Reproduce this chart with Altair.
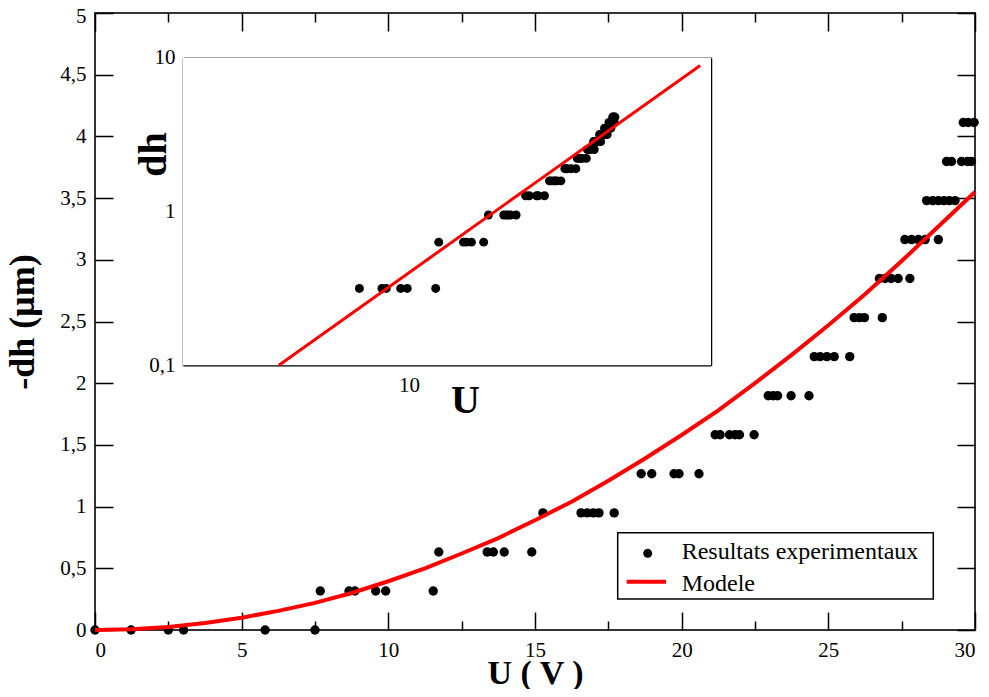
import altair as alt
import pandas as pd

# ---------------- data ----------------
exp_U = [0, 1.23, 2.5, 3.02, 5.8, 7.5,
         7.68, 8.66, 8.86, 9.57, 9.91, 11.53,
         11.72, 13.37, 13.58, 13.95, 14.89,
         15.27, 16.57, 16.78, 16.99, 17.18, 17.7,
         18.62, 18.98, 19.74, 19.91, 20.59,
         21.14, 21.31, 21.63, 21.82, 21.97, 22.47,
         22.95, 23.12, 23.27, 23.73, 24.34,
         24.52, 24.72, 24.95, 25.2, 25.73,
         25.88, 26.06, 26.23, 26.84,
         26.74, 26.93, 27.14, 27.38, 27.78,
         27.61, 27.84, 28.07, 28.3, 28.75,
         28.35, 28.56, 28.75, 28.94, 29.12, 29.32,
         29.03, 29.2, 29.54, 29.74, 29.88,
         29.6, 29.77, 29.97]
exp_dh = [0, 0, 0, 0, 0, 0,
          0.316, 0.316, 0.316, 0.316, 0.316, 0.316,
          0.632, 0.632, 0.632, 0.632, 0.632,
          0.949, 0.949, 0.949, 0.949, 0.949, 0.949,
          1.266, 1.266, 1.266, 1.266, 1.266,
          1.582, 1.582, 1.582, 1.582, 1.582, 1.582,
          1.898, 1.898, 1.898, 1.898, 1.898,
          2.215, 2.215, 2.215, 2.215, 2.215,
          2.531, 2.531, 2.531, 2.531,
          2.848, 2.848, 2.848, 2.848, 2.848,
          3.164, 3.164, 3.164, 3.164, 3.164,
          3.48, 3.48, 3.48, 3.48, 3.48, 3.48,
          3.797, 3.797, 3.797, 3.797, 3.797,
          4.113, 4.113, 4.113]

model_U = [0, 1.25, 2.5, 3.75, 5, 6.25, 7.5, 8.75, 10, 11.25, 12.5, 13.75, 15,
           16.25, 17.5, 18.75, 20, 21.25, 22.5, 23.75, 25, 26.25, 27.5, 28.75, 30]
model_dh = [0, 0.006, 0.025, 0.056, 0.1, 0.155, 0.22, 0.30, 0.395, 0.5, 0.62,
            0.745, 0.89, 1.04, 1.21, 1.39, 1.58, 1.78, 2.0, 2.23, 2.47, 2.72,
            2.99, 3.27, 3.55]

inset_model_U = [5, 10, 20, 30, 47.2]
inset_model_dh = [0.1, 0.4, 1.6, 3.6, 8.9]

main_x_ticks = [0, 2.5, 5, 7.5, 10, 12.5, 15, 17.5, 20, 22.5, 25, 27.5, 30]
main_x_labels = [0, 5, 10, 15, 20, 25, 30]
main_y_ticks = [0, 0.5, 1, 1.5, 2, 2.5, 3, 3.5, 4, 4.5, 5]
inset_x_ticks = [4, 5, 6, 7, 8, 9, 10, 20, 30, 40]
inset_y_ticks = [0.2, 0.3, 0.4, 0.5, 0.6, 0.7, 0.8, 0.9, 1, 2, 3, 4, 5, 6, 7, 8, 9]
legend_labels = ["Resultats experimentaux", "Modele"]

exp = pd.DataFrame({"U": exp_U, "dh": exp_dh})
model = pd.DataFrame({"U": model_U, "dh": model_dh})
imodel = pd.DataFrame({"U": inset_model_U, "dh": inset_model_dh})

# ---------------- geometry (plot-area pixels) ----------------
W, H = 880, 617
IX0, IX1 = 88, 616        # inset left / right
IY0, IY1 = 44.7, 352.3    # inset top / bottom

FONT = "Liberation Serif"
comma = "replace(format(datum.value, '~g'), '.', ',')"

mx = alt.Scale(domain=[0, 30], nice=False, zero=False)
my = alt.Scale(domain=[0, 5], nice=False, zero=False)
ix = alt.Scale(type="log", domain=[3, 50], range=[IX0, IX1], nice=False)
iy = alt.Scale(type="log", domain=[0.1, 10], range=[IY1, IY0], nice=False)

x_tick_size = {"condition": {"test": "datum.value % 5 === 0", "value": 18}, "value": 9}
ix_tick_size = {"condition": {"test": "datum.value === 10", "value": 18}, "value": 9}
iy_tick_size = {"condition": {"test": "datum.value === 1", "value": 18}, "value": 10}
top_label_shift = {"condition": {"test": "datum.value === 5", "value": 3}, "value": 0}

# main points with labelled axes
main_pts = alt.Chart(exp).mark_circle(color="black", size=88, opacity=1).encode(
    x=alt.X("U:Q", scale=mx, axis=alt.Axis(
        orient="bottom", values=main_x_labels, ticks=False, domain=False,
        labelPadding=9, title="U ( V )", titleFontSize=34,
        titleX=440, titleY=53, titleBaseline="alphabetic", titleAlign="center")),
    y=alt.Y("dh:Q", scale=my, axis=alt.Axis(
        orient="left", values=main_y_ticks, ticks=False, domain=False,
        labelExpr=comma, labelPadding=9, labelOffset=top_label_shift,
        title="-dh (μm)", titleFontSize=36,
        titleAngle=270, titleX=-62, titleY=308.5, titleBaseline="alphabetic",
        titleAlign="center")),
)

# main model line + inward ticks bottom/left
main_line = alt.Chart(model).mark_line(color="#ff0000", strokeWidth=4).encode(
    x=alt.X("U:Q", scale=mx, axis=alt.Axis(
        orient="top", offset=-H, values=main_x_ticks, labels=False, domain=False,
        tickSize=x_tick_size, title=None)),
    y=alt.Y("dh:Q", scale=my, axis=alt.Axis(
        orient="right", offset=-W, values=main_y_ticks, labels=False, domain=False,
        tickSize=18, title=None)),
)

# inward ticks top/right
main_mirror = alt.Chart(model).mark_line(strokeOpacity=0).encode(
    x=alt.X("U:Q", scale=mx, axis=alt.Axis(
        orient="bottom", offset=-H, values=main_x_ticks, labels=False, domain=False,
        tickSize=x_tick_size, title=None)),
    y=alt.Y("dh:Q", scale=my, axis=alt.Axis(
        orient="left", offset=-W, values=main_y_ticks, labels=False, domain=False,
        tickSize=18, title=None)),
)

# inset background
inset_bg = alt.Chart(pd.DataFrame({"U": [3, 50], "dh": [0.1, 10]})).mark_rect(
    fill="white").encode(
    x=alt.X("min(U):Q", scale=ix, axis=None),
    x2="max(U):Q",
    y=alt.Y("min(dh):Q", scale=iy, axis=None),
    y2="max(dh):Q",
)

# inset points with labelled axes
inset_pts = alt.Chart(exp).transform_filter("datum.dh > 0").mark_circle(
    color="black", size=80, opacity=1).encode(
    x=alt.X("U:Q", scale=ix, axis=alt.Axis(
        orient="bottom", offset=-(H - IY1), values=[10], ticks=False, domain=True,
        labelPadding=9, title="U", titleFontSize=40,
        titleX=370, titleY=46.7, titleBaseline="alphabetic", titleAlign="center")),
    y=alt.Y("dh:Q", scale=iy, axis=alt.Axis(
        orient="left", offset=-IX0, values=[0.1, 1, 10], ticks=False, domain=True,
        labelExpr=comma, labelPadding=8, title="dh", titleFontSize=40,
        titleAngle=270, titleX=-18, titleY=141, titleBaseline="alphabetic",
        titleAlign="center")),
)

inset_line = alt.Chart(imodel).mark_line(color="#ff0000", strokeWidth=3).encode(
    x=alt.X("U:Q", scale=ix, axis=alt.Axis(
        orient="top", offset=-IY1, values=inset_x_ticks, labels=False, domain=False,
        tickSize=ix_tick_size, title=None)),
    y=alt.Y("dh:Q", scale=iy, axis=alt.Axis(
        orient="right", offset=-(W - IX0), values=inset_y_ticks, labels=False,
        domain=False, tickSize=iy_tick_size, title=None)),
)

inset_mirror = alt.Chart(imodel).mark_line(strokeOpacity=0).encode(
    x=alt.X("U:Q", scale=ix, axis=alt.Axis(
        orient="bottom", offset=-(H - IY0), values=inset_x_ticks, labels=False,
        domain=True, tickSize=ix_tick_size, title=None)),
    y=alt.Y("dh:Q", scale=iy, axis=alt.Axis(
        orient="left", offset=-IX1, values=inset_y_ticks, labels=False,
        domain=True, tickSize=iy_tick_size, title=None)),
)

# legend
one = pd.DataFrame({"k": [0]})
leg_box = alt.Chart(one).mark_rect(fill="white", stroke="black", strokeWidth=1.5).encode(
    x=alt.value(522.7), x2=alt.value(838.3), y=alt.value(519.7), y2=alt.value(586))
leg_dot = alt.Chart(one).mark_circle(color="black", size=80, opacity=1).encode(
    x=alt.value(552.7), y=alt.value(540.3))
leg_line = alt.Chart(one).mark_rule(color="#ff0000", strokeWidth=4).encode(
    x=alt.value(531.7), x2=alt.value(571), y=alt.value(568.7))
leg_t1 = alt.Chart(one).mark_text(
    text=legend_labels[0], font=FONT, fontSize=24, align="left",
    baseline="alphabetic", color="black").encode(x=alt.value(586.7), y=alt.value(546.3))
leg_t2 = alt.Chart(one).mark_text(
    text=legend_labels[1], font=FONT, fontSize=24, align="left",
    baseline="alphabetic", color="black").encode(x=alt.value(586.7), y=alt.value(577.7))

chart = alt.layer(
    main_pts, main_line, main_mirror,
    inset_bg, inset_pts, inset_line, inset_mirror,
    leg_box, leg_dot, leg_line, leg_t1, leg_t2,
).resolve_scale(x="independent", y="independent").resolve_axis(
    x="independent", y="independent"
).properties(
    width=W, height=H,
    autosize=alt.AutoSizeParams(type="none"),
    padding={"left": 87, "top": 5, "right": 6, "bottom": 59},
).configure_view(
    stroke="#333333", strokeWidth=2
).configure_axis(
    grid=False,
    labelFont=FONT, labelFontSize=21, labelColor="black",
    titleFont=FONT, titleFontWeight="bold", titleColor="black",
    tickColor="black", tickWidth=1.5,
    domainColor="black", domainWidth=1.5,
)

chart.save("out.html", embed_options={"renderer": "svg", "actions": False})
